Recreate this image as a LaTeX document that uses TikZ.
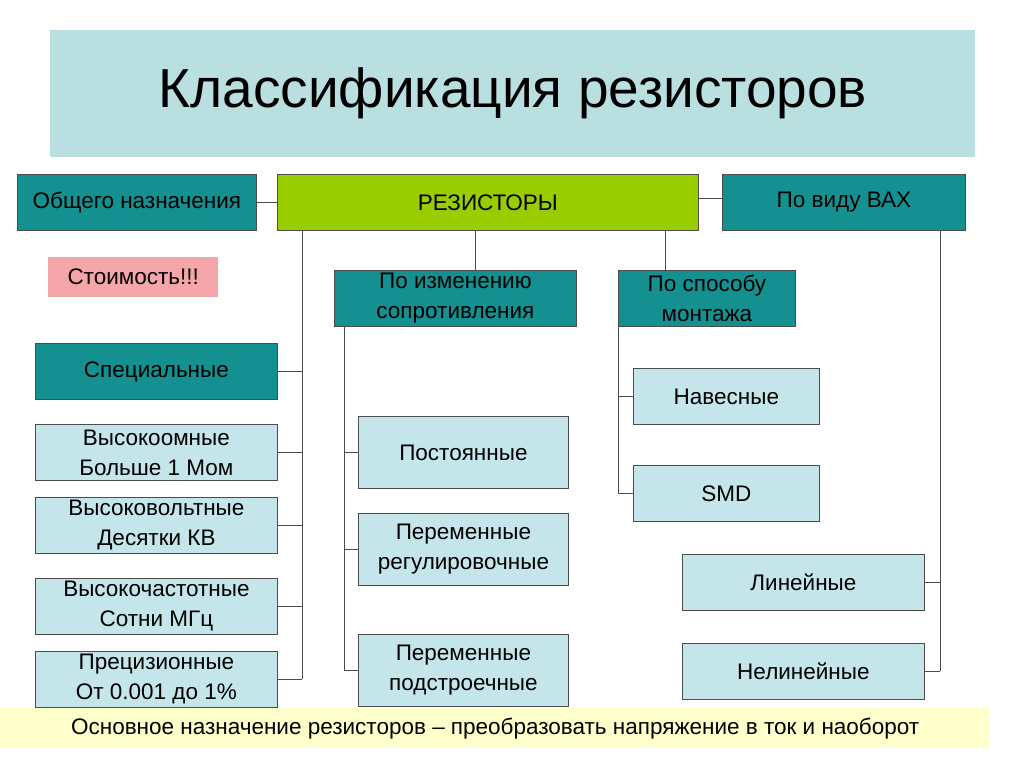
\documentclass[tikz,border=0pt]{standalone}
\usepackage{fontspec}
\setmainfont{Liberation Sans}
\definecolor{tealc}{HTML}{159090}
\definecolor{lightc}{HTML}{C4E6EA}
\definecolor{titlec}{HTML}{B9DFE0}
\definecolor{greenc}{HTML}{9ACD00}
\definecolor{pinkc}{HTML}{F4A6A8}
\definecolor{yelc}{HTML}{FFFFCC}
\begin{document}
\begin{tikzpicture}[x=1pt,y=-1pt,
  box/.style={draw=black!70,line width=0.8pt,anchor=north west,inner sep=0pt,align=center,font=\fontsize{22.5}{30}\selectfont},
  ln/.style={draw=black!70,line width=0.8pt}]
\useasboundingbox[fill=white] (0,0) rectangle (1024,767);
\newcommand\bx[7]{\node[box,fill=#6,minimum width=#4pt,minimum height=#5pt] (#1) at (#2,#3) {#7};}
\node[anchor=north west,fill=titlec,minimum width=925pt,minimum height=127pt,inner sep=0pt,font=\fontsize{55}{60}\selectfont] (title) at (50,30) {Классификация резисторов};
\bx{obs}{17}{174}{239}{56}{tealc}{\makebox[0pt]{Общего назначения}}
\bx{res}{277}{174}{421}{56}{greenc}{РЕЗИСТОРЫ}
\bx{vax}{722}{174}{243}{56}{tealc}{По виду ВАХ}
\node[anchor=north west,fill=pinkc,minimum width=170pt,minimum height=40pt,inner sep=0pt,font=\fontsize{22.5}{26}\selectfont] (cost) at (48,257) {Стоимость!!!};
\bx{izm}{334}{270}{242}{56}{tealc}{По изменению\\сопротивления}
\bx{mon}{618}{270}{177}{56}{tealc}{По способу\\монтажа}
\bx{spec}{35}{343}{242}{56}{tealc}{Специальные}
\bx{a1}{35}{424}{242}{56}{lightc}{Высокоомные\\Больше 1 Мом}
\bx{a2}{35}{497}{242}{56}{lightc}{Высоковольтные\\Десятки КВ}
\bx{a3}{35}{578}{242}{56}{lightc}{Высокочастотные\\Сотни МГц}
\bx{a4}{35}{651}{242}{56}{lightc}{Прецизионные\\От 0.001 до 1\%}
\bx{b1}{358}{416}{210}{72}{lightc}{Постоянные}
\bx{b2}{358}{513}{210}{72}{lightc}{Переменные\\регулировочные}
\bx{b3}{358}{634}{210}{72}{lightc}{Переменные\\подстроечные}
\bx{c1}{633}{368}{186}{56}{lightc}{Навесные}
\bx{c2}{633}{465}{186}{56}{lightc}{SMD}
\bx{d1}{682}{554}{242}{56}{lightc}{Линейные}
\bx{d2}{682}{643}{242}{56}{lightc}{Нелинейные}
\node[anchor=north west,fill=yelc,minimum width=990pt,minimum height=40pt,inner sep=0pt,font=\fontsize{22.5}{26}\selectfont] (bot) at (0,708) {Основное назначение резисторов -- преобразовать напряжение в ток и наоборот};
% connectors
\coordinate (L) at (302,230);
\coordinate (M) at (344,326);
\coordinate (N) at (618,326);
\coordinate (R) at (940,230);
\draw[ln] (obs.east) -- (obs.east -| res.west);
\draw[ln] (vax.west) ++(0,-4) coordinate (v1) -- (v1 -| res.east);
\draw[ln] (L) -- (L |- a4.east);
\foreach \n in {spec,a1,a2,a3,a4} \draw[ln] (\n.east) -- (\n.east -| L);
\draw[ln] (res.south -| izm.north) ++(20,0) coordinate (t1) -- (t1 |- izm.north);
\draw[ln] (res.south -| mon.north) ++(-42,0) coordinate (t2) -- (t2 |- mon.north);
\draw[ln] (M) -- (M |- b3.west);
\foreach \n in {b1,b2,b3} \draw[ln] (\n.west) -- (\n.west -| M);
\draw[ln] (N) -- (N |- c2.west);
\foreach \n in {c1,c2} \draw[ln] (\n.west) -- (\n.west -| N);
\draw[ln] (R) -- (R |- d2.east);
\foreach \n in {d1,d2} \draw[ln] (\n.east) -- (\n.east -| R);
\end{tikzpicture}
\end{document}
